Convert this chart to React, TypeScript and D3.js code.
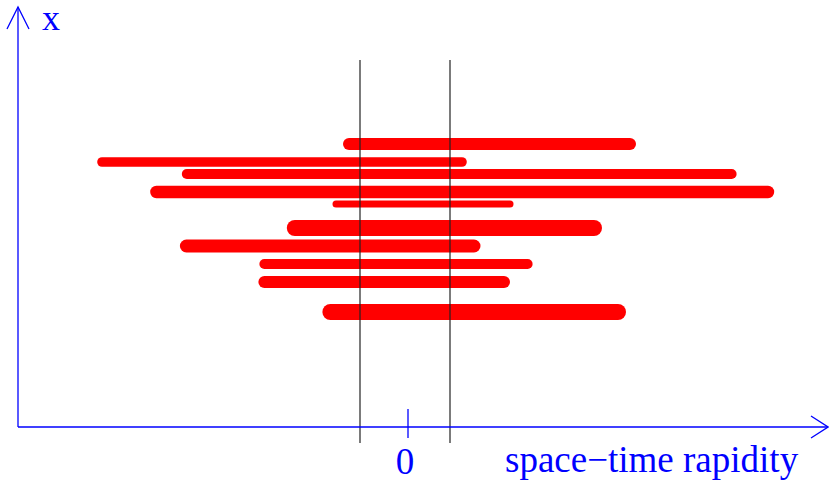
import React from "react";
import * as d3 from "d3";

// Strings in space-time rapidity (start/end) and transverse position
const stringStart = [-1.475, -7.65, -5.53, -6.29, -1.8, -2.83, -5.54, -3.59, -3.59, -1.94];
const stringEnd = [5.55, 1.35, 8.09, 9.0, 2.55, 4.65, 1.65, 2.99, 2.4, 5.25];
const stringPos = [7.075, 6.625, 6.325, 5.875, 5.575, 4.975, 4.525, 4.075, 3.625, 2.875];
const stringWeight = [3, 2.4, 2.5, 3.1, 1.75, 4, 3.25, 2.5, 3, 4];

// Rapidity window boundaries
const windowEdges = [-1.2, 1.05];
const windowTop = 9.175;

const xTicks = [0];
const xLabel = "space\u2212time rapidity";
const yLabel = "x";

const W = 829;
const H = 481;

export default function App() {
  const x = d3.scaleLinear().domain([-9.75, 10.5]).range([18, 828]);
  const y = d3.scaleLinear().domain([0, 10.5]).range([427, 7]);
  const w = d3.scaleLinear().domain([0, 1]).range([0, 4]);

  const blue = "#0000ff";
  const x0 = x(-9.75);
  const y0 = y(0);
  const xEnd = x(10.5);
  const yEnd = y(10.5);

  const strings = stringStart.map((s, i) => ({
    s,
    e: stringEnd[i],
    p: stringPos[i],
    wt: stringWeight[i],
  }));

  return (
    <svg
      width={W}
      height={H}
      style={{ position: "absolute", left: 0, top: 0, background: "#fff" }}
      fontFamily="'Liberation Serif', 'DejaVu Serif', serif"
    >
      {/* strings */}
      {strings.map((d, i) => (
        <line
          key={i}
          x1={x(d.s)}
          x2={x(d.e)}
          y1={y(d.p)}
          y2={y(d.p)}
          stroke="#ff0000"
          strokeWidth={w(d.wt)}
          strokeLinecap="round"
        />
      ))}

      {/* window boundaries */}
      {windowEdges.map((v, i) => (
        <line
          key={i}
          x1={x(v)}
          x2={x(v)}
          y1={y(windowTop)}
          y2={y0 + 16}
          stroke="#222"
          strokeWidth={1.2}
        />
      ))}

      {/* axes */}
      <g stroke={blue} strokeWidth={1.3} fill="none">
        <line x1={x0} y1={y0} x2={xEnd} y2={y0} />
        <line x1={x0} y1={y0} x2={x0} y2={yEnd} />
        <polyline points={`${xEnd - 17},${y0 - 11} ${xEnd},${y0} ${xEnd - 17},${y0 + 11}`} />
        <polyline points={`${x0 - 11},${yEnd + 22} ${x0},${yEnd} ${x0 + 11},${yEnd + 22}`} />
        {xTicks.map((t) => (
          <line key={t} x1={x(t)} x2={x(t)} y1={y0 - 18} y2={y0 + 11} />
        ))}
      </g>

      {xTicks.map((t) => (
        <text key={t} x={x(t) - 3} y={474} fill={blue} fontSize={37} textAnchor="middle">
          {t}
        </text>
      ))}
      <text x={505} y={472} fill={blue} fontSize={37}>
        {xLabel}
      </text>
      <text x={42} y={30} fill={blue} fontSize={36}>
        {yLabel}
      </text>
    </svg>
  );
}
